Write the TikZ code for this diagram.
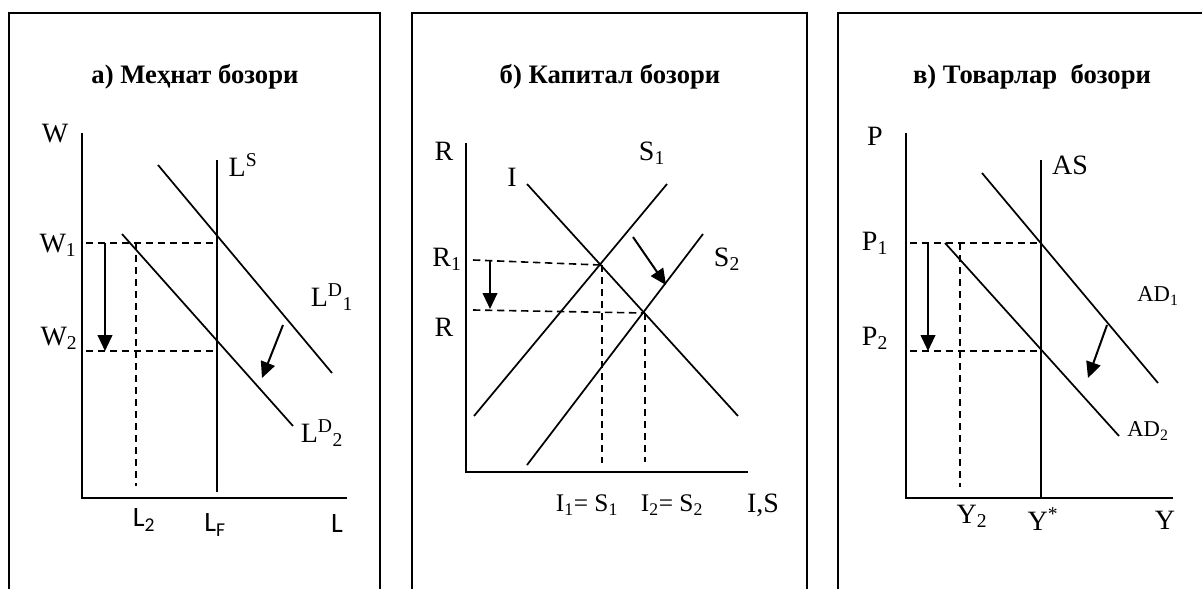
\documentclass[tikz,border=0pt]{standalone}
\usepackage{fontspec}
\setmainfont{Liberation Serif}
\newfontfamily\calibfont{Carlito}
\usetikzlibrary{arrows.meta}

\begin{document}
\begin{tikzpicture}[x=0.75pt,y=-0.75pt,font=\fontsize{21}{23}\selectfont,
    frm/.style={line width=1.4pt},
    axs/.style={line width=1.5pt},
    crv/.style={line width=1.3pt},
    dsh/.style={line width=1.2pt,dash pattern=on 5.5pt off 3.5pt},
    shft/.style={line width=1.5pt,-{Triangle[length=12pt,width=11pt]}},
    ttl/.style={font=\fontsize{20}{22}\selectfont\bfseries,inner sep=0pt},
    lbl/.style={inner sep=0pt},
    sans/.style={inner sep=0pt,font=\calibfont\fontsize{21}{23}\selectfont}]
  \useasboundingbox (0,0) rectangle (1202,589);

  % (a) labour market
  \draw[frm] (9,589) -- (9,13) -- (380,13) -- (380,589);
  \node[ttl] (ttla) at (195,77) {а) Меҳнат бозори};
  \draw[axs] (82,133) -- (82,498) -- (347,498);
  \draw[crv] (217,160) -- (217,492);
  \draw[crv] (158,165) -- (332,373);
  \draw[crv] (122,234) -- (293,426);
  \draw[dsh] (86,243) -- (217,243);
  \draw[dsh] (86,351) -- (217,351);
  \draw[dsh] (136,243) -- (136,486);
  \draw[shft] (105,243) -- (105,351);
  \draw[shft] (283,325) -- (262,378);
  \node[lbl] (wa) at (55,134) {W};
  \node[lbl] (w1a) at (58,245) {W\textsubscript{1}};
  \node[lbl] (w2a) at (59,338) {W\textsubscript{2}};
  \node[lbl] (lsa) at (243,165) {L\textsuperscript{S}};
  \node[lbl] (ld1a) at (332,297) {L\textsuperscript{D}\textsubscript{1}};
  \node[lbl] (ld2a) at (322,433) {L\textsuperscript{D}\textsubscript{2}};
  \node[sans] (l2a) at (144,520) {L\textsubscript{2}};
  \node[sans] (lfa) at (215,525) {L\textsubscript{F}};
  \node[sans] (la) at (337,524) {L};

  % (b) capital market
  \draw[frm] (412,589) -- (412,13) -- (807,13) -- (807,589);
  \node[ttl] (ttlb) at (610,77) {б) Капитал бозори};
  \draw[axs] (466,143) -- (466,472) -- (748,472);
  \draw[crv] (527,184) -- (738,416);
  \draw[crv] (474,416) -- (667,184);
  \draw[crv] (527,465) -- (703,234);
  \draw[dsh] (473,260) -- (600,265);
  \draw[dsh] (473,310) -- (644,313);
  \draw[dsh] (602,265) -- (602,463);
  \draw[dsh] (645,313) -- (645,462);
  \draw[shft] (490,261) -- (490,309);
  \draw[shft] (633,237) -- (666,285);
  \node[lbl] (rb) at (444,151) {R};
  \node[lbl] (r1b) at (447,259) {R\textsubscript{1}};
  \node[lbl] (r2b) at (444,327) {R};
  \node[lbl] (ib) at (512,177) {I};
  \node[lbl] (s1b) at (652,153) {S\textsubscript{1}};
  \node[lbl] (s2b) at (727,259) {S\textsubscript{2}};
  \node[lbl,font=\fontsize{19}{21}\selectfont] (eq1b) at (587,505) {I\textsubscript{1}= S\textsubscript{1}};
  \node[lbl,font=\fontsize{19}{21}\selectfont] (eq2b) at (672,505) {I\textsubscript{2}= S\textsubscript{2}};
  \node[lbl] (isb) at (763,505) {I,S};

  % (c) goods market
  \draw[frm] (838,589) -- (838,13) -- (1202,13);
  \node[ttl] (ttlc) at (1032,77) {в) Товарлар~ бозори};
  \draw[axs] (906,133) -- (906,498) -- (1173,498);
  \draw[crv] (1041,160) -- (1041,498);
  \draw[crv] (982,173) -- (1158,383);
  \draw[crv] (945,243) -- (1119,436);
  \draw[dsh] (910,243) -- (1041,243);
  \draw[dsh] (910,351) -- (1041,351);
  \draw[dsh] (960,243) -- (960,487);
  \draw[shft] (928,243) -- (928,351);
  \draw[shft] (1107,325) -- (1088,378);
  \node[lbl] (pc) at (875,136) {P};
  \node[lbl] (p1c) at (875,243) {P\textsubscript{1}};
  \node[lbl] (p2c) at (875,338) {P\textsubscript{2}};
  \node[lbl] (asc) at (1070,165) {AS};
  \node[lbl,font=\fontsize{17}{19}\selectfont] (ad1c) at (1158,296) {AD\textsubscript{1}};
  \node[lbl,font=\fontsize{17}{19}\selectfont] (ad2c) at (1148,431) {AD\textsubscript{2}};
  \node[lbl] (y2c) at (972,516) {Y\textsubscript{2}};
  \node[lbl] (ysc) at (1043,519) {Y\textsuperscript{*}};
  \node[lbl] (yc) at (1165,520) {Y};
\end{tikzpicture}
\end{document}
